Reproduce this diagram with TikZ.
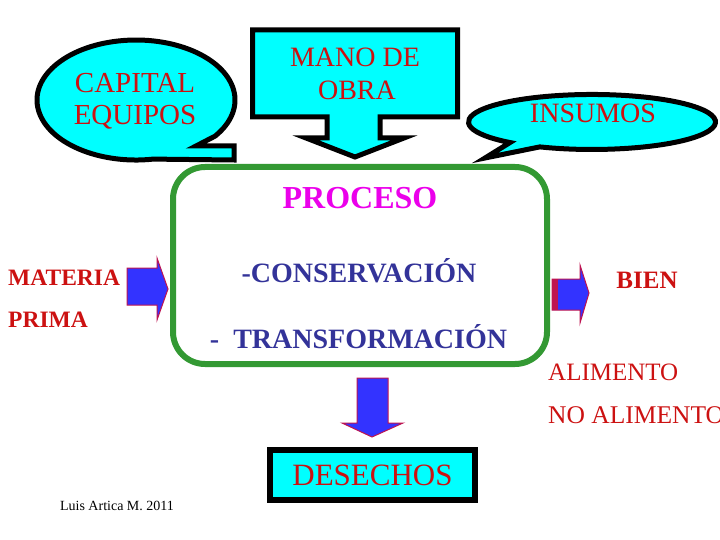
\documentclass[tikz,border=0pt]{standalone}
\usepackage{fontspec}
\setmainfont{Liberation Serif}
\definecolor{bubblecyan}{RGB}{0,255,255}
\definecolor{labelred}{RGB}{204,17,17}
\definecolor{procgreen}{RGB}{51,153,51}
\definecolor{procmagenta}{RGB}{235,0,235}
\definecolor{stepblue}{RGB}{51,51,153}
\definecolor{arrowblue}{RGB}{51,51,255}
\definecolor{arrowrim}{RGB}{190,20,80}

\begin{document}
\begin{tikzpicture}[x=1pt,y=-1pt,
    callout/.style={fill=bubblecyan,draw=black,line width=5pt},
    blockarrow/.style={fill=arrowblue,draw=arrowrim,line width=1pt},
    lbl/.style={text=labelred,inner sep=0pt,anchor=base,font=\fontsize{29}{34}\selectfont},
    stagetxt/.style={text=stepblue,inner sep=0pt,anchor=base,font=\fontsize{28}{33}\selectfont\bfseries},
    wastebox/.style={fill=bubblecyan,draw=black,line width=6pt,minimum width=205pt,
        minimum height=50pt,text=labelred,font=\fontsize{31}{36}\selectfont}]
    \useasboundingbox (0,0) rectangle (720,540);

    % inputs
    \draw[callout] (153.2,159.1) arc[start angle=80,end angle=397,x radius=99,y radius=60]
        -- (196,146) -- (234,146) -- (234,160) -- cycle;
    \node[lbl] (capital) at (135,93) {CAPITAL};
    \node[lbl] (equipos) at (135,125) {EQUIPOS};

    \draw[callout] (252.5,30) -- (457.5,30) -- (457.5,117) -- (380,117) -- (380,138)
        -- (404,138) -- (355,157) -- (306,138) -- (327,138) -- (327,117)
        -- (252.5,117) -- cycle;
    \node[lbl,font=\fontsize{28}{33}\selectfont] (mano) at (355,67) {MANO DE};
    \node[lbl,font=\fontsize{28}{33}\selectfont] (obra) at (357,100) {OBRA};

    \draw[callout] (539.8,146.9) arc[start angle=115,end angle=-228.4,x radius=123.5,y radius=27.5]
        -- (485,158) -- cycle;
    \node[lbl,font=\fontsize{28}{33}\selectfont] (insumos) at (593,123) {INSUMOS};

    % process
    \draw[procgreen,line width=6pt,rounded corners=32pt] (173,167) rectangle (547,364);
    \node[inner sep=0pt,anchor=base,text=procmagenta,font=\fontsize{32}{37}\selectfont\bfseries]
        (proceso) at (360,208) {PROCESO};
    \node[stagetxt] (conserv) at (359,282) {-CONSERVACIÓN};
    \node[stagetxt] (transf) at (358.5,348) {-\ \ TRANSFORMACIÓN};

    % raw material in
    \node[lbl,anchor=base west,font=\fontsize{23.5}{28}\selectfont\bfseries] (materia) at (8,285) {MATERIA};
    \node[lbl,anchor=base west,font=\fontsize{23.5}{28}\selectfont\bfseries] (prima) at (8,327) {PRIMA};
    \draw[blockarrow] (127,268) -- (157,268) -- (157,258) -- (168,289) -- (157,320)
        -- (157,305) -- (127,305) -- cycle;

    % product out
    \draw[blockarrow] (552,279) -- (580,279) -- (580,265) -- (589,293) -- (580,323)
        -- (580,310) -- (552,310) -- cycle;
    \fill[arrowrim] (552,279) rectangle (558,310);
    \node[lbl,font=\fontsize{25}{30}\selectfont\bfseries] (bien) at (647,288) {BIEN};
    \node[lbl,anchor=base west,font=\fontsize{25}{30}\selectfont] (alim) at (548,380) {ALIMENTO};
    \node[lbl,anchor=base west,font=\fontsize{25.5}{30}\selectfont] (noalim) at (548,423) {NO ALIMENTO};

    % waste
    \draw[blockarrow] (357,378) -- (388,378) -- (388,423) -- (403,423) -- (372,437)
        -- (342,423) -- (357,423) -- cycle;
    \node[wastebox] (desechos) at (372.5,475) {DESECHOS};

    \node[inner sep=0pt,anchor=base,font=\fontsize{14}{16}\selectfont] (autor) at (117,510) {Luis Artica M. 2011};
\end{tikzpicture}
\end{document}
